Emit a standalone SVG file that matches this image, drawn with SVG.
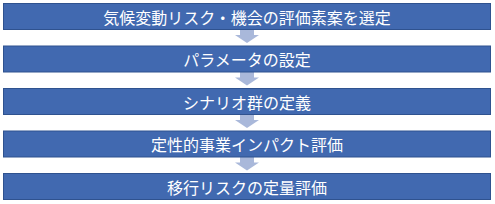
<svg xmlns="http://www.w3.org/2000/svg" width="495" height="204" viewBox="0 0 495 204">
<style>
.box{fill:#4169B0;stroke:#2F528F;stroke-width:1}
.lbl{fill:#FFFFFF;font-family:"Noto Sans CJK JP","Noto Sans CJK SC",sans-serif;font-size:16px;text-anchor:middle;dominant-baseline:central}
.arr{fill:#A9B8DA}
</style>
<rect width="495" height="204" fill="#FFFFFF"/>
<g id="connectors">
<path class="arr" d="M240,29.5 H254 V35 H259 L247,43 L235,35 H240 Z"/>
<path class="arr" d="M240,72 H254 V77.5 H259 L247,85.5 L235,77.5 H240 Z"/>
<path class="arr" d="M240,114.5 H254 V120 H259 L247,128 L235,120 H240 Z"/>
<path class="arr" d="M240,157 H254 V162.5 H259 L247,170.5 L235,162.5 H240 Z"/>
</g>
<g id="n1"><rect class="box" x="3.5" y="3.5" width="487" height="26"/><text class="lbl" x="247" y="16.5">気候変動リスク・機会の評価素案を選定</text></g>
<g id="n2"><rect class="box" x="3.5" y="46" width="487" height="26"/><text class="lbl" x="247" y="59">パラメータの設定</text></g>
<g id="n3"><rect class="box" x="3.5" y="88.5" width="487" height="26"/><text class="lbl" x="247" y="101.5">シナリオ群の定義</text></g>
<g id="n4"><rect class="box" x="3.5" y="131" width="487" height="26"/><text class="lbl" x="247" y="144">定性的事業インパクト評価</text></g>
<g id="n5"><rect class="box" x="3.5" y="173.5" width="487" height="26"/><text class="lbl" x="247" y="186.5">移行リスクの定量評価</text></g>
</svg>
